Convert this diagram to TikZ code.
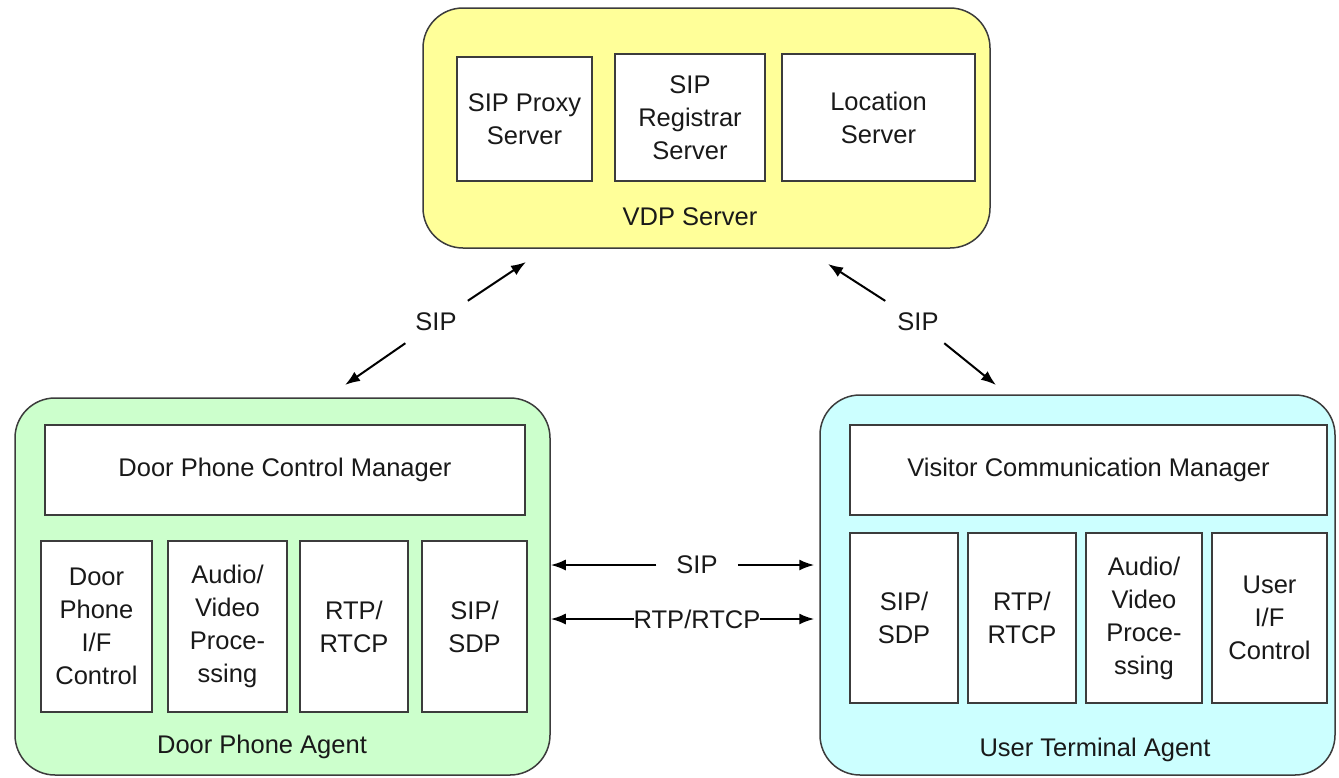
\documentclass[tikz,border=0pt]{standalone}
\usepackage{fontspec}
\setmainfont{Liberation Sans}
\usetikzlibrary{arrows.meta}
\definecolor{ylw}{RGB}{255,255,153}
\definecolor{grn}{RGB}{204,255,204}
\definecolor{cyn}{RGB}{204,255,255}
\definecolor{edge}{RGB}{60,60,60}
\definecolor{txt}{RGB}{25,25,25}
\tikzset{
  outer/.style={draw=edge, line width=1.5pt, rounded corners=40pt, inner sep=0pt},
  ibox/.style={draw=edge, line width=1.5pt, fill=white, inner sep=0pt, align=center, text=txt,
    font=\fontsize{25.5}{33}\selectfont},
  lbl/.style={text=txt, font=\fontsize{25.5}{33}\selectfont, inner sep=2pt},
  arr/.style={-{Latex[length=15pt,width=11pt]}, line width=2pt, black},
}
\begin{document}
\begin{tikzpicture}[x=1pt,y=-1pt]
\useasboundingbox (0,0) rectangle (1339,777);
% VDP server
\node[outer, fill=ylw, minimum width=567pt, minimum height=240pt] (vdp) at (706.5,128) {};
\node[ibox, minimum width=135pt, minimum height=124pt] (proxy) at (524.5,119) {SIP Proxy\\Server};
\node[ibox, minimum width=150pt, minimum height=127pt] (reg) at (690,117.5) {SIP\\Registrar\\Server};
\node[ibox, minimum width=193pt, minimum height=127pt] (loc) at (878.5,117.5) {Location\\Server};
\node[lbl] (vdpl) at (690,217) {VDP Server};
% Door phone agent
\node[outer, fill=grn, minimum width=535pt, minimum height=377pt] (dpa) at (282.5,586.5) {};
\node[ibox, minimum width=480pt, minimum height=90pt] (dpcm) at (285,470) {Door Phone Control Manager};
\node[ibox, minimum width=111pt, minimum height=171pt] (d1) at (96.5,626.5) {Door\\Phone\\I/F\\Control};
\node[ibox, minimum width=119pt, minimum height=171pt] (d2) at (227.5,626.5) {Audio/\\Video\\Proce-\\ssing};
\node[ibox, minimum width=108pt, minimum height=171pt] (d3) at (354,626.5) {RTP/\\RTCP};
\node[ibox, minimum width=105pt, minimum height=171pt] (d4) at (474.5,626.5) {SIP/\\SDP};
\node[lbl] (dpal) at (262,747) {Door Phone Agent};
% User terminal agent
\node[outer, fill=cyn, minimum width=515pt, minimum height=380pt] (uta) at (1077.5,585) {};
\node[ibox, minimum width=477pt, minimum height=90pt] (vcm) at (1088.5,470) {Visitor Communication Manager};
\node[ibox, minimum width=108pt, minimum height=170pt] (u1) at (904,618) {SIP/\\SDP};
\node[ibox, minimum width=108pt, minimum height=170pt] (u2) at (1022,618) {RTP/\\RTCP};
\node[ibox, minimum width=116pt, minimum height=170pt] (u3) at (1144,618) {Audio/\\Video\\Proce-\\ssing};
\node[ibox, minimum width=115pt, minimum height=170pt] (u4) at (1269.5,618) {User\\I/F\\Control};
\node[lbl] (utal) at (1095,750) {User Terminal Agent};
% diagonal SIP arrows
\node[lbl, inner sep=12pt] (sipl) at (436,322) {SIP};
\coordinate (tlu) at (526,262);
\coordinate (tld) at (345,385);
\draw[arr] (sipl) -- (tlu);
\draw[arr] (sipl) -- (tld);
\node[lbl, inner sep=12pt] (sipr) at (918,322) {SIP};
\coordinate (tru) at (828,264);
\coordinate (trd) at (996,385);
\draw[arr] (sipr) -- (tru);
\draw[arr] (sipr) -- (trd);
% horizontal arrows
\node[lbl, inner xsep=20pt] (siph) at (697,565) {SIP};
\draw[arr] (siph) -- (siph -| dpa.east);
\draw[arr] (siph) -- ([xshift=-5pt]siph -| uta.west);
\node[lbl, inner sep=0pt] (rtph) at (697,619) {RTP/RTCP};
\draw[arr] (rtph) -- (rtph -| dpa.east);
\draw[arr] (rtph) -- ([xshift=-5pt]rtph -| uta.west);
\end{tikzpicture}
\end{document}
